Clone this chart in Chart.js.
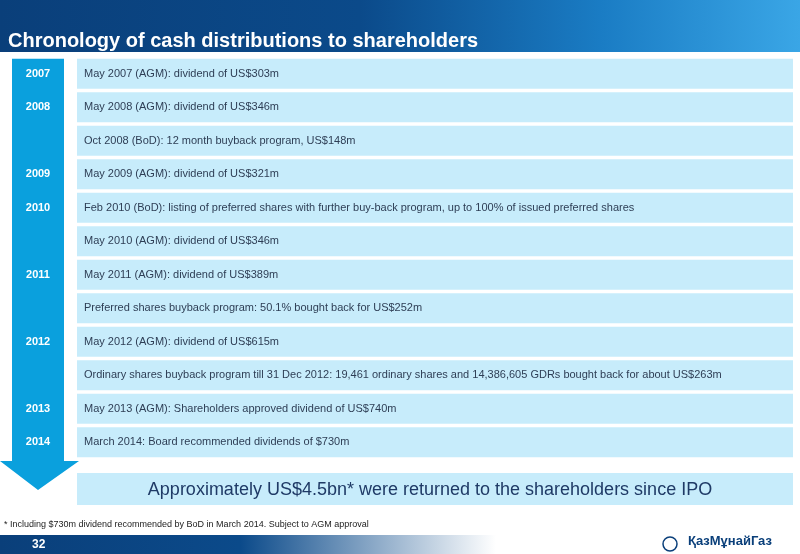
<!DOCTYPE html>
<html><head><meta charset="utf-8">
<script src="https://cdn.jsdelivr.net/npm/chart.js@4"></script>
<style>html,body{margin:0;padding:0;background:#fff}#c{display:block}</style>
</head><body>
<div style="width:800px;height:554px"><canvas id="c"></canvas></div>
<script>
const years = ['2007','2008','','2009','2010','','2011','','2012','','2013','2014'];
const events = [
  'May 2007 (AGM): dividend of US$303m',
  'May 2008 (AGM): dividend of US$346m',
  'Oct 2008 (BoD): 12 month buyback program, US$148m',
  'May 2009 (AGM): dividend of US$321m',
  'Feb 2010 (BoD): listing of preferred shares with further buy-back program, up to 100% of issued preferred shares',
  'May 2010 (AGM): dividend of US$346m',
  'May 2011 (AGM): dividend of US$389m',
  'Preferred shares buyback program: 50.1% bought back for US$252m',
  'May 2012 (AGM): dividend of US$615m',
  'Ordinary shares buyback program till 31 Dec 2012: 19,461 ordinary shares and 14,386,605 GDRs bought back for about US$263m',
  'May 2013 (AGM): Shareholders approved dividend of US$740m',
  'March 2014: Board recommended dividends of $730m'
];
const spans = events.map(() => [0, 1]);

const FONT = '"Liberation Sans Narrow", "Liberation Sans", Arial, sans-serif';

const slide = {
  id: 'slide',
  beforeDraw(chart) {
    const ctx = chart.ctx, W = chart.width;
    // header
    let g = ctx.createLinearGradient(0, 0, W, 0);
    g.addColorStop(0, '#0a3f7a'); g.addColorStop(0.45, '#0b4a8a');
    g.addColorStop(0.75, '#1a7cc4'); g.addColorStop(1, '#3aa6e6');
    ctx.fillStyle = g; ctx.fillRect(0, 0, W, 52);
    ctx.fillStyle = '#fff'; ctx.font = 'bold 20px ' + FONT;
    ctx.textBaseline = 'middle'; ctx.textAlign = 'left';
    ctx.fillText('Chronology of cash distributions to shareholders', 8, 41);
    // footer
    g = ctx.createLinearGradient(0, 0, W, 0);
    g.addColorStop(0, '#0a3f7a'); g.addColorStop(0.3, '#0b4a8a'); g.addColorStop(0.62, '#ffffff');
    ctx.fillStyle = g; ctx.fillRect(0, 535, W, 19);
    ctx.fillStyle = '#fff'; ctx.font = 'bold 12px ' + FONT;
    ctx.fillText('32', 32, 545);
    ctx.fillStyle = '#0a3f7a'; ctx.font = 'bold 13px ' + FONT;
    ctx.fillText('ҚазМұнайГаз', 688, 541);
    ctx.beginPath(); ctx.arc(670, 544, 7, 0, Math.PI * 2); ctx.strokeStyle = '#0a3f7a'; ctx.lineWidth = 1.5; ctx.stroke();
    // arrow
    const y = chart.scales.y;
    const top = y.getPixelForValue(0) - y.height / years.length * 0.45;
    ctx.fillStyle = '#0aa0dd';
    ctx.beginPath();
    ctx.moveTo(12, top); ctx.lineTo(64, top); ctx.lineTo(64, 461); ctx.lineTo(79, 461);
    ctx.lineTo(38, 490); ctx.lineTo(0, 461); ctx.lineTo(12, 461); ctx.closePath(); ctx.fill();
    ctx.fillStyle = '#fff'; ctx.font = 'bold 11px ' + FONT; ctx.textAlign = 'center';
    years.forEach((t, i) => { if (t) ctx.fillText(t, 38, y.getPixelForValue(i)); });
    // summary
    ctx.fillStyle = '#c7ecfb'; ctx.fillRect(77, 473, 716, 32);
    ctx.fillStyle = '#1f3a66'; ctx.font = '18px ' + FONT;
    ctx.fillText('Approximately US$4.5bn* were returned to the shareholders since IPO', 430, 490);
    ctx.fillStyle = '#222'; ctx.font = '9px ' + FONT; ctx.textAlign = 'left';
    ctx.fillText('* Including $730m dividend recommended by BoD in March 2014. Subject to AGM approval', 4, 525);
  },
  afterDatasetsDraw(chart) {
    const ctx = chart.ctx, y = chart.scales.y;
    ctx.fillStyle = '#2e3e55'; ctx.font = '11px ' + FONT;
    ctx.textAlign = 'left'; ctx.textBaseline = 'middle';
    events.forEach((t, i) => ctx.fillText(t, 84, y.getPixelForValue(i)));
  }
};

new Chart(document.getElementById('c'), {
  type: 'bar',
  data: {
    labels: events,
    datasets: [{ data: spans, backgroundColor: '#c7ecfb', borderWidth: 0,
      categoryPercentage: 0.9, barPercentage: 1 }]
  },
  options: {
    indexAxis: 'y', responsive: true, maintainAspectRatio: false, animation: false,
    layout: { padding: { left: 77, right: 7, top: 57, bottom: 95 } },
    scales: {
      x: { display: false, min: 0, max: 1 },
      y: { display: false }
    },
    plugins: { legend: { display: false }, tooltip: { enabled: false } }
  },
  plugins: [slide]
});
</script>
</body></html>
